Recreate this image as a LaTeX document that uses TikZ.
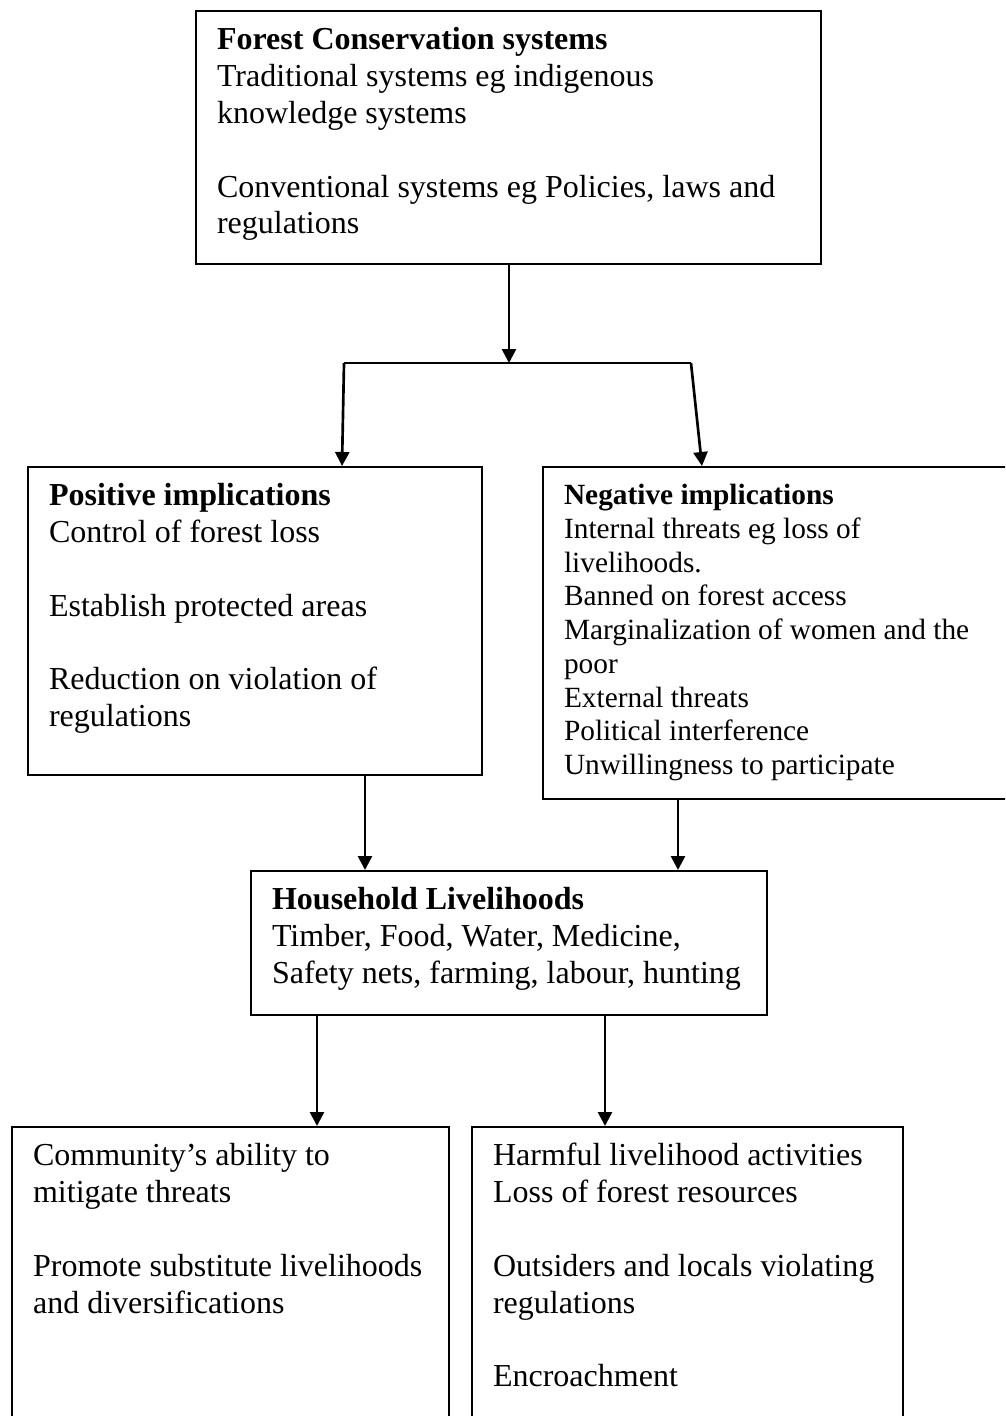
\documentclass[tikz,border=0pt]{standalone}
\usepackage{fontspec}
\setmainfont{Liberation Serif}
\usetikzlibrary{arrows.meta}
\newlength\px
\setlength\px{0.375pt}
\newcommand{\boxtext}[4][14.6pt]{\parbox[c][#3][t]{#2}{\raggedright\leftskip=7.9pt\rule{0pt}{#1}#4}}
\begin{document}
\begin{tikzpicture}
  [x=0.375pt,y=-0.375pt,>={Triangle[length=5.25pt,width=5.25pt]},
   every node/.style={draw,line width=0.75pt,inner sep=0pt,anchor=north west,
     font=\fontsize{12pt}{13.8pt}\selectfont}]
  \useasboundingbox (0,0) rectangle (1005,1416);
  \clip (0,0) rectangle (1005,1416);
  \node (conserve) at (195,10) {\boxtext{625\px}{253\px}{\textbf{Forest Conservation systems}\\
    Traditional systems eg indigenous\\
    knowledge systems\\[\baselineskip]
    Conventional systems eg Policies, laws and\\
    regulations}};
  \node (positive) at (27,466) {\boxtext{454\px}{308\px}{\textbf{Positive implications}\\
    Control of forest loss\\[\baselineskip]
    Establish protected areas\\[\baselineskip]
    Reduction on violation of\\
    regulations}};
  \node[font=\fontsize{11pt}{12.65pt}\selectfont] (negative) at (542,466) {\boxtext[14.1pt]{480\px}{332\px}{\textbf{Negative implications}\\
    Internal threats eg loss of\\
    livelihoods.\\
    Banned on forest access\\
    Marginalization of women and the\\
    poor\\
    External threats\\
    Political interference\\
    Unwillingness to participate}};
  \node (household) at (250,870) {\boxtext{516\px}{144\px}{\textbf{Household Livelihoods}\\
    Timber, Food, Water, Medicine,\\
    Safety nets, farming, labour, hunting}};
  \node (ability) at (11,1126) {\boxtext{437\px}{330\px}{Community’s ability to\\
    mitigate threats\\[\baselineskip]
    Promote substitute livelihoods\\
    and diversifications}};
  \node (harm) at (471,1126) {\boxtext{431\px}{330\px}{Harmful livelihood activities\\
    Loss of forest resources\\[\baselineskip]
    Outsiders and locals violating\\
    regulations\\[\baselineskip]
    Encroachment}};

  \coordinate (split) at (509,363);
  \coordinate (splitL) at (344,363);
  \coordinate (splitR) at (691,363);
  \coordinate (posin) at (342,466);
  \coordinate (negin) at (702,466);
  \draw[line width=1pt] (splitL) -- (splitR);
  \path[->,line width=1pt]
        (conserve.south -| split) edge (split)
        (splitL) edge (posin)
        (splitR) edge (negin)
        (365,0 |- positive.south) edge (365,0 |- household.north)
        (678,0 |- negative.south) edge (678,0 |- household.north)
        (317,0 |- household.south) edge (317,0 |- ability.north)
        (605,0 |- household.south) edge (605,0 |- harm.north);
\end{tikzpicture}
\end{document}
